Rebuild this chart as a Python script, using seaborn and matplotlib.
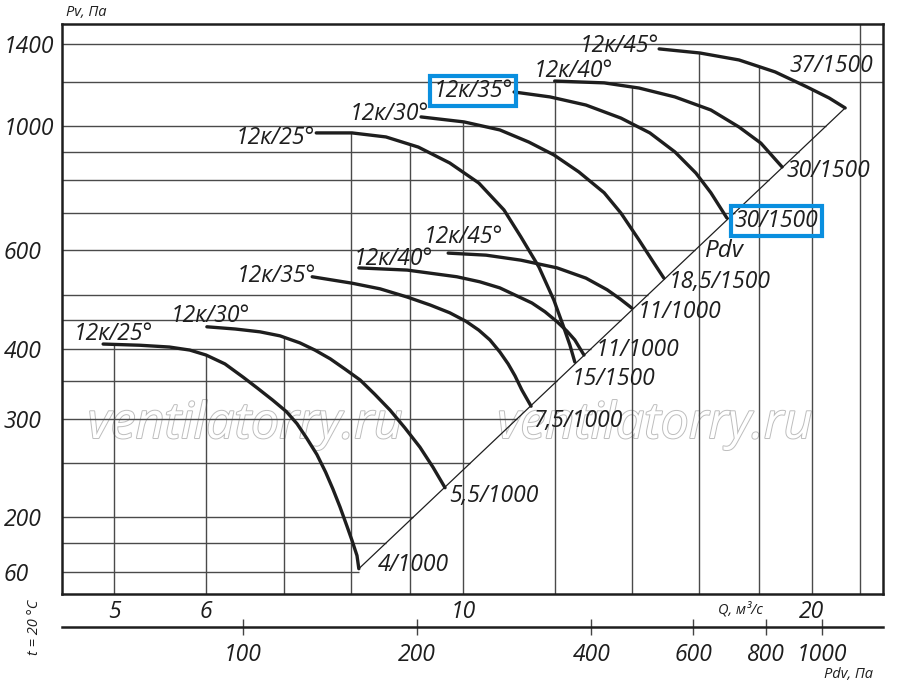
import numpy as np
import pandas as pd
import seaborn as sns
import matplotlib.pyplot as plt
import matplotlib.patheffects as pe
from matplotlib.ticker import NullLocator

# Q (m3/s) and Pv (Pa), one pair per blade setting / motor
q_25_1000 = [4.89, 5.26, 5.58, 5.81, 6.00, 6.23, 6.46, 6.65, 6.85, 7.04, 7.19, 7.33,
             7.48, 7.61, 7.72, 7.83, 7.94, 8.02, 8.10, 8.13]
p_25_1000 = [408, 406, 403, 398, 390, 376, 356, 340, 324, 309, 294, 277,
             259, 241, 225, 209, 193, 182, 171, 162]

q_30_1000 = [6.01, 6.36, 6.68, 6.95, 7.23, 7.45, 7.68, 7.91, 8.15, 8.39, 8.65, 8.91,
             9.18, 9.42, 9.65]
p_30_1000 = [438, 434, 429, 422, 410, 398, 384, 368, 352, 332, 311, 289,
             267, 246, 226]

q_35_1000 = [7.41, 8.02, 8.48, 8.95, 9.37, 9.74, 10.06, 10.32, 10.55, 10.76, 10.94,
             11.09, 11.24, 11.45]
p_35_1000 = [538, 524, 512, 495, 479, 464, 448, 432, 415, 395, 376,
             358, 338, 316]

q_40_1000 = [8.13, 8.95, 9.88, 10.34, 10.76, 11.47, 11.77, 12.06, 12.30, 12.49, 12.72]
p_40_1000 = [558, 553, 538, 527, 514, 483, 466, 447, 430, 415, 390]

q_45_1000 = [9.71, 10.47, 11.22, 12.06, 12.77, 13.32, 13.67, 13.99]
p_45_1000 = [593, 588, 576, 558, 535, 510, 491, 473]

q_25_1500 = [7.47, 8.02, 8.58, 9.15, 9.74, 10.32, 10.85, 11.22, 11.63, 11.98, 12.20,
             12.37, 12.49]
p_25_1500 = [972, 972, 956, 917, 859, 791, 708, 634, 560, 489, 441, 406, 379]

q_30_1500 = [9.20, 10.02, 10.76, 11.40, 11.98, 12.59, 13.24, 13.69, 14.19, 14.62, 14.91]
p_30_1500 = [1038, 1017, 984, 936, 888, 828, 760, 699, 626, 569, 535]

q_35_1500 = [11.07, 11.89, 12.77, 13.69, 14.50, 15.24, 15.89, 16.37, 16.90]
p_35_1500 = [1150, 1127, 1090, 1033, 972, 899, 824, 760, 685]

q_40_1500 = [12.0, 13.24, 14.19, 15.24, 16.37, 17.31, 18.08, 18.86]
p_40_1500 = [1203, 1194, 1169, 1127, 1068, 996, 932, 845]

q_45_1500 = [14.77, 16.02, 17.31, 18.60, 19.82, 20.71, 21.38]
p_45_1500 = [1373, 1350, 1312, 1249, 1174, 1122, 1077]

names = ["12к/25°", "12к/30°", "12к/35°", "12к/40°", "12к/45°",
         "12к/25°", "12к/30°", "12к/35°", "12к/40°", "12к/45°"]
motors = ["4/1000", "5,5/1000", "7,5/1000", "11/1000", "11/1000",
          "15/1500", "18,5/1500", "30/1500", "30/1500", "37/1500"]
curve_q = [q_25_1000, q_30_1000, q_35_1000, q_40_1000, q_45_1000,
           q_25_1500, q_30_1500, q_35_1500, q_40_1500, q_45_1500]
curve_p = [p_25_1000, p_30_1000, p_35_1000, p_40_1000, p_45_1000,
           p_25_1500, p_30_1500, p_35_1500, p_40_1500, p_45_1500]

# dynamic pressure line Pdv
pdv_line_q = [8.13, 21.38]
pdv_line_p = [162, 1077]
PDV_COEF = 2.4  # Pdv = k * Q^2, from the lower scale

h_grid = [1400, 1200, 1000, 900, 800, 700, 600, 500, 450, 400, 350, 300, 250, 200, 180, 160]
v_grid = [5, 6, 7, 8, 9, 10, 12, 14, 16, 18, 20, 22]
y_ticks = [1400, 1000, 600, 400, 300, 200, 160]
y_tick_labels = ["1400", "1000", "600", "400", "300", "200", "60"]
x_ticks = [5, 6, 10, 20]
pdv_ticks = [100, 200, 400, 600, 800, 1000]

# label offsets in pixels from curve start / end
name_offsets = [(10, 4), (3, 5), (-36, -5), (34, 3), (15, 10),
                (-41, -11), (-32, -3), (-41, -5), (19, 4), (-40, -3)]
motor_offsets = [(19, -2), (4, -14), (2, -21), (12, -1), (6, -10),
                 (-3, -23), (5, -10), (8, -9), (4, -10), (-56, 36)]
boxed = [7]

X_LIM = (4.506, 23.05)
Y_LIM = (146.0, 1521)
INK = "#1e1e1e"
GRID = "#4a4a4a"
BLUE = "#0a8fdf"


def main():
    sns.set_style("white")
    plt.rcParams["font.family"] = ["Open Sans", "DejaVu Sans"]
    plt.rcParams["font.style"] = "italic"
    plt.rcParams["font.size"] = 16.5

    fig = plt.figure(figsize=(9, 6.88), dpi=100)
    ax = fig.add_axes([62 / 900, 94 / 688, 821 / 900, 570 / 688])

    frames = []
    for i, (q, p) in enumerate(zip(curve_q, curve_p)):
        frames.append(pd.DataFrame({"Q": q, "P": p, "curve": i}))
    df = pd.concat(frames, ignore_index=True)

    sns.lineplot(data=df, x="Q", y="P", units="curve", estimator=None, sort=False,
                 color=INK, lw=2.4, ax=ax, zorder=4)
    ax.plot(pdv_line_q, pdv_line_p, color=INK, lw=0.9, zorder=3)

    ax.set_xscale("log")
    ax.set_yscale("log")
    ax.set_xlim(*X_LIM)
    ax.set_ylim(*Y_LIM)

    # horizontal grid stops at the Pdv line
    lq, lp = np.log10(pdv_line_q), np.log10(pdv_line_p)
    for p in h_grid:
        right = X_LIM[1] if p > pdv_line_p[-1] else 10 ** np.interp(np.log10(p), lp, lq)
        ax.hlines(p, X_LIM[0], right, colors=GRID, lw=1, zorder=1)

    # vertical grid stops under the highest curve
    for q in v_grid:
        tops = [10 ** np.interp(np.log10(q), np.log10(cq), np.log10(cp))
                for cq, cp in zip(curve_q, curve_p) if cq[0] <= q <= cq[-1]]
        top = max(tops) if tops else Y_LIM[1]
        ax.vlines(q, Y_LIM[0], top, colors=GRID, lw=1, zorder=1)

    for i in range(len(names)):
        q, p = curve_q[i], curve_p[i]
        box = dict(boxstyle="square,pad=0.15", fc="none", ec=BLUE, lw=3) if i in boxed else None
        ax.annotate(names[i], xy=(q[0], p[0]), xytext=name_offsets[i],
                    textcoords="offset pixels", ha="center", va="baseline",
                    color=INK, bbox=box, zorder=5)
        ax.annotate(motors[i], xy=(q[-1], p[-1]), xytext=motor_offsets[i],
                    textcoords="offset pixels", ha="left", va="baseline",
                    color=INK, bbox=box, zorder=5)

    ax.text(16.18, 583, "Pdv", ha="left", va="baseline", fontsize=17.5, color=INK, zorder=5)

    # hollow watermark
    for xf in (0.223, 0.722):
        ax.text(xf, 0.296, "ventilatorry.ru", transform=ax.transAxes, ha="center",
                va="center", fontsize=36, color="white", zorder=0.5,
                path_effects=[pe.Stroke(linewidth=1.4, foreground="#bdbdbd"), pe.Normal()])

    ax.set_xlabel("")
    ax.set_ylabel("")
    ax.set_yticks(y_ticks, labels=y_tick_labels)
    ax.set_xticks(x_ticks, labels=[str(v) for v in x_ticks])
    ax.xaxis.set_minor_locator(NullLocator())
    ax.yaxis.set_minor_locator(NullLocator())
    for t in ax.get_yticklabels():
        t.set_ha("left")
    ax.tick_params(axis="y", length=0, pad=42, labelcolor=INK)
    ax.tick_params(axis="x", length=0, pad=4, labelcolor=INK)
    for s in ax.spines.values():
        s.set_linewidth(1.8)
        s.set_color(INK)

    sec = ax.secondary_xaxis(-0.058, functions=(lambda q: PDV_COEF * q ** 2,
                                                 lambda p: np.sqrt(np.abs(p) / PDV_COEF)))
    sec.set_xticks(pdv_ticks, labels=[str(v) for v in pdv_ticks])
    sec.xaxis.set_minor_locator(NullLocator())
    sec.tick_params(direction="inout", length=11.5, width=1, pad=5.5,
                    color="#444444", labelcolor=INK)
    sec.spines["bottom"].set_linewidth(1.8)
    sec.spines["bottom"].set_color(INK)

    fig.text(86 / 900, 1 - 13 / 688, "Pv, Па", fontsize=10.5, ha="center", va="center", color=INK)
    fig.text(740 / 900, 1 - 610 / 688, "Q, м³/с", fontsize=10.5, ha="center", va="center", color=INK)
    fig.text(848 / 900, 1 - 675 / 688, "Pdv, Па", fontsize=10.5, ha="center", va="center", color=INK)
    fig.text(35 / 900, 1 - 627 / 688, "t = 20 °C", fontsize=10.5, rotation=90,
             ha="center", va="center", color=INK)

    fig.savefig("out.png", dpi=100)


if __name__ == "__main__":
    main()
